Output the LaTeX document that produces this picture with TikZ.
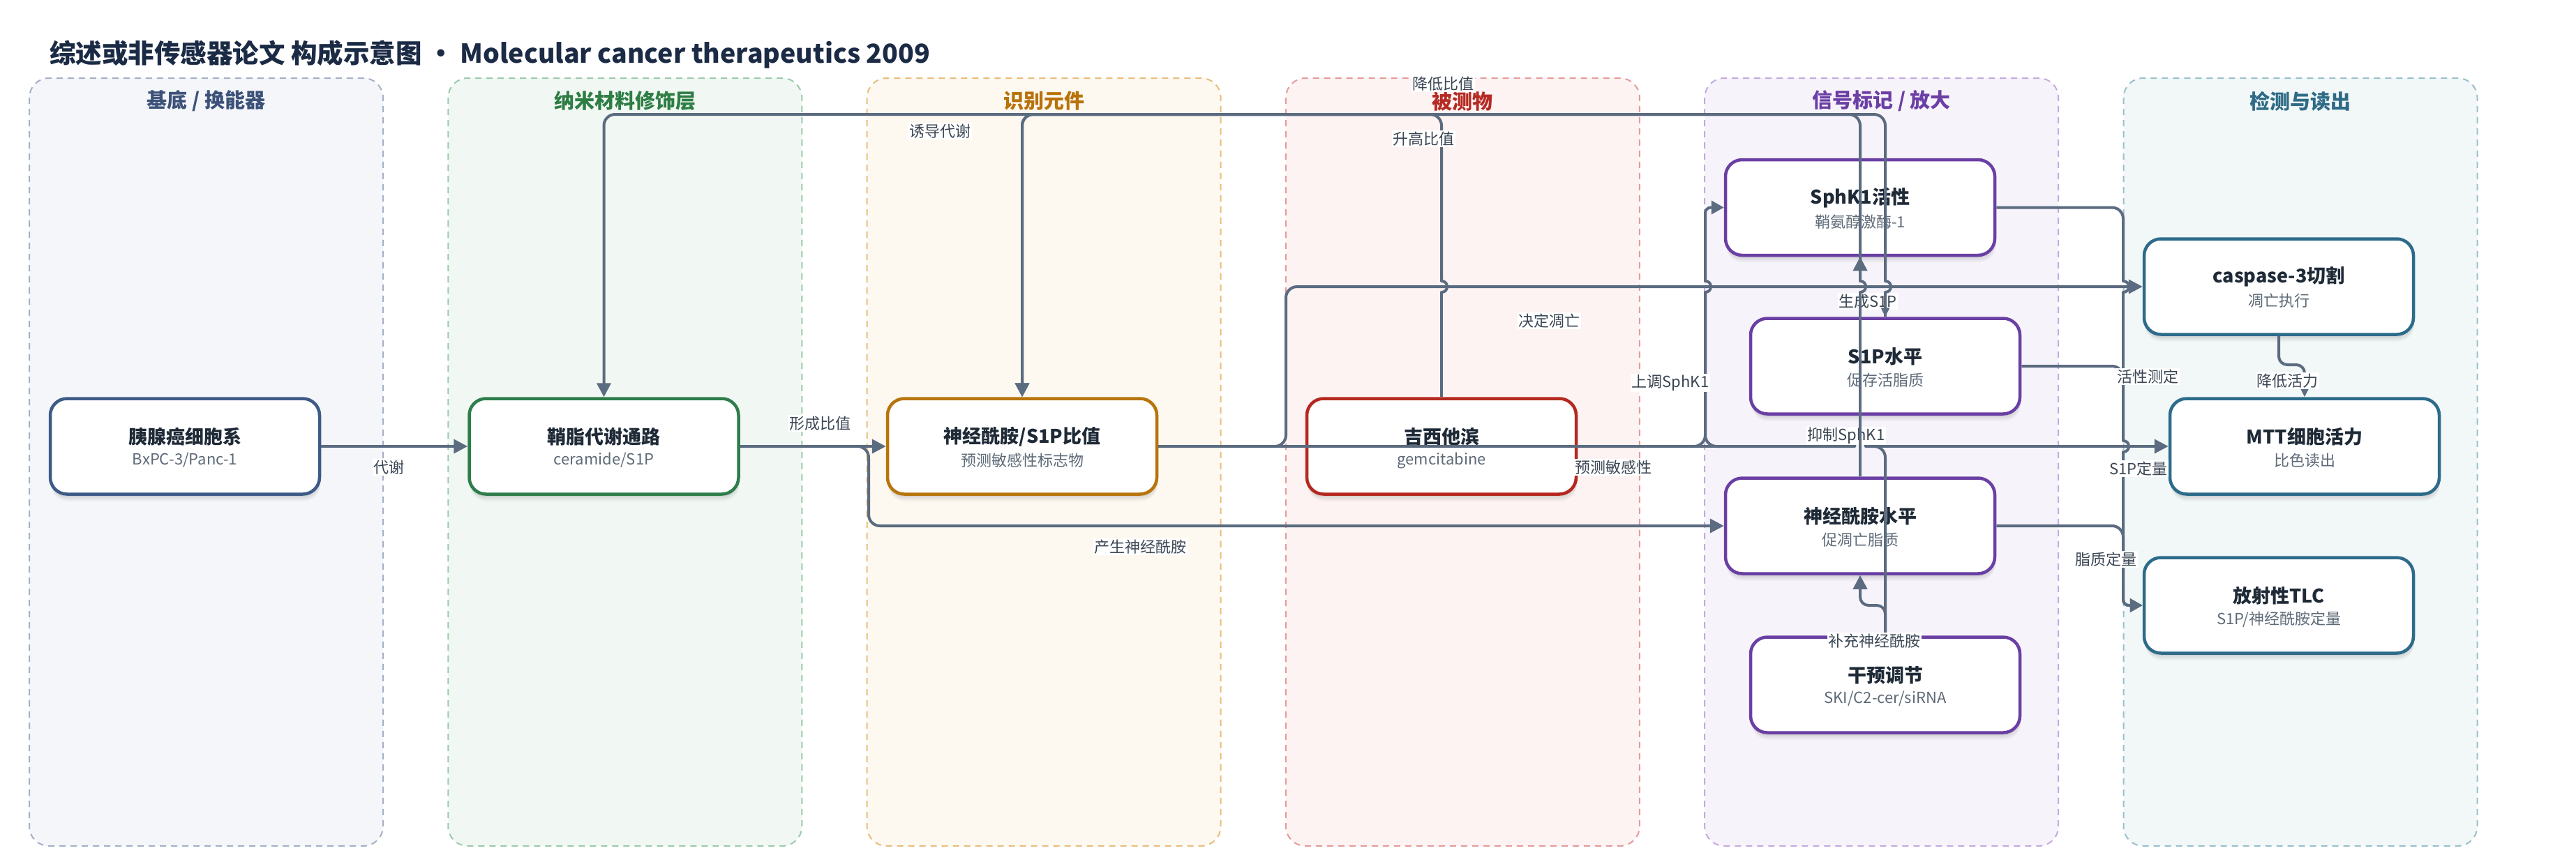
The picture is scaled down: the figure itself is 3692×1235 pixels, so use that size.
\documentclass[tikz,border=0pt]{standalone}
\usepackage{fontspec}
\setmainfont{Noto Sans CJK SC}
\usetikzlibrary{arrows.meta,shadows}
\definecolor{lc}{HTML}{5B6B80}
\definecolor{ttc}{HTML}{1F2A37}
\definecolor{subc}{HTML}{5E6A78}
\definecolor{labc}{HTML}{3B4654}
\definecolor{hdc}{HTML}{1B2B45}
\definecolor{cA}{HTML}{3E5A87}
\definecolor{cB}{HTML}{2E7D4A}
\definecolor{cC}{HTML}{B8740C}
\definecolor{cD}{HTML}{B5281F}
\definecolor{cP}{HTML}{6A3FA3}
\definecolor{cT}{HTML}{2D6B8A}
\definecolor{fA}{HTML}{F4F6FA}\definecolor{bA}{HTML}{A3B1C6}\definecolor{tA}{HTML}{3D5278}
\definecolor{fB}{HTML}{F1F8F3}\definecolor{bB}{HTML}{9BCBAA}\definecolor{tB}{HTML}{2E7D45}
\definecolor{fC}{HTML}{FDF8F0}\definecolor{bC}{HTML}{E8BE7E}\definecolor{tC}{HTML}{B8720A}
\definecolor{fD}{HTML}{FDF3F3}\definecolor{bD}{HTML}{E49C9A}\definecolor{tD}{HTML}{B52A23}
\definecolor{fE}{HTML}{F7F3FB}\definecolor{bE}{HTML}{C4AADF}\definecolor{tE}{HTML}{6B3FA5}
\definecolor{fF}{HTML}{F2F7F8}\definecolor{bF}{HTML}{98C0CC}\definecolor{tF}{HTML}{2F6B86}
\tikzset{
  conn/.style={draw=lc, line width=4pt, rounded corners=16pt},
  arr/.style={-{Triangle[length=20pt,width=20pt]}},
  arrs/.style={-{Triangle[length=18pt,width=19pt]}},
  sarr/.style={-{Triangle[length=13pt,width=12pt]}},
  hopl/.style={draw=lc, line width=4pt, line cap=round},
  nbox/.style={draw=#1, line width=4.5pt, rounded corners=24pt, fill=white,
    minimum width=386pt, minimum height=137pt, inner sep=0pt,
    drop shadow={shadow xshift=1pt,shadow yshift=-10pt,opacity=0.04,fill=black},
    drop shadow={shadow xshift=1pt,shadow yshift=-7pt,opacity=0.05,fill=black},
    drop shadow={shadow xshift=0pt,shadow yshift=-4pt,opacity=0.06,fill=black}},
  ttl/.style={font=\fontsize{27}{30}\selectfont\bfseries, text=ttc, inner sep=0pt},
  subt/.style={font=\fontsize{22}{26}\selectfont, text=subc, inner sep=0pt},
  elab/.style={font=\fontsize{22}{26}\selectfont, text=labc, fill=white, inner sep=1.5pt},
  lanebg/.style 2 args={fill=#1, draw=#2, line width=2pt, dash pattern=on 9pt off 7pt, rounded corners=28pt},
  lanet/.style={font=\fontsize{29}{32}\selectfont\bfseries, text=#1, inner sep=0pt},
}
\newcommand\hopv[2]{\draw[hopl] (#1,#2+8) .. controls (#1+10.7,#2+8) and (#1+10.7,#2-8) .. (#1,#2-8);}
\newcommand\hoph[2]{\draw[hopl] (#1-8,#2) .. controls (#1-8,#2-10.7) and (#1+8,#2-10.7) .. (#1+8,#2);}
\begin{document}
\begin{tikzpicture}[x=1pt,y=-1pt]
\useasboundingbox (0,0) rectangle (3692,1235);
\fill[white] (0,0) rectangle (3692,1235);

% title
\node[anchor=base west, inner sep=0pt, text=hdc, font=\fontsize{37.5}{42}\selectfont\bfseries] (title) at (71,90) {综述或非传感器论文 构成示意图 • Molecular cancer therapeutics 2009};

% lanes
\draw[lanebg={fA}{bA}] (42,112) rectangle (549,1213);
\draw[lanebg={fB}{bB}] (642.3,112) rectangle (1149.3,1213);
\draw[lanebg={fC}{bC}] (1242.6,112) rectangle (1749.6,1213);
\draw[lanebg={fD}{bD}] (1842.9,112) rectangle (2349.9,1213);
\draw[lanebg={fE}{bE}] (2443.2,112) rectangle (2950.2,1213);
\draw[lanebg={fF}{bF}] (3043.5,112) rectangle (3550.5,1213);
\node[lanet=tA] (T1) at (295.5,145) {基底 / 换能器};
\node[lanet=tB] (T2) at (895.8,145) {纳米材料修饰层};
\node[lanet=tC] (T3) at (1496.1,145) {识别元件};
\node[lanet=tD] (T4) at (2096.4,145) {被测物};
\node[lanet=tE] (T5) at (2696.7,145) {信号标记 / 放大};
\node[lanet=tF] (T6) at (3297,145) {检测与读出};

% nodes
\node[nbox=cA] (A) at (265,640) {};
\node[nbox=cB] (B) at (865.5,640) {};
\node[nbox=cC] (C) at (1465,640) {};
\node[nbox=cD] (D) at (2066,640) {};
\node[nbox=cP] (E) at (2666,297.5) {};
\node[nbox=cP] (F) at (2702,525) {};
\node[nbox=cP] (G) at (2666,754) {};
\node[nbox=cP] (H) at (2702,982) {};
\node[nbox=cT] (I) at (3266,411) {};
\node[nbox=cT] (J) at (3303,640) {};
\node[nbox=cT] (K) at (3266,868) {};

\node[ttl] (At) at (265,626) {胰腺癌细胞系};
\node[subt] (As) at (265,660) {BxPC-3/Panc-1};
\node[ttl] (Bt) at (865.5,626) {鞘脂代谢通路};
\node[subt] (Bs) at (865.5,660) {ceramide/S1P};
\node[ttl] (Ct) at (1465,626) {神经酰胺/S1P比值};
\node[subt] (Cs) at (1465,660) {预测敏感性标志物};
\node[ttl] (Dt) at (2066,626) {吉西他滨};
\node[subt] (Ds) at (2066,660) {gemcitabine};
\node[ttl] (Et) at (2666,284) {SphK1活性};
\node[subt] (Es) at (2666,318) {鞘氨醇激酶-1};
\node[ttl] (Ft) at (2702,511) {S1P水平};
\node[subt] (Fs) at (2702,545) {促存活脂质};
\node[ttl] (Gt) at (2666,740) {神经酰胺水平};
\node[subt] (Gs) at (2666,774) {促凋亡脂质};
\node[ttl] (Ht) at (2702,968) {干预调节};
\node[subt] (Hs) at (2702,1002) {SKI/C2-cer/siRNA};
\node[ttl] (It) at (3266,397) {caspase-3切割};
\node[subt] (Is) at (3266,431) {凋亡执行};
\node[ttl] (Jt) at (3303,626) {MTT细胞活力};
\node[subt] (Js) at (3303,660) {比色读出};
\node[ttl] (Kt) at (3266,854) {放射性TLC};
\node[subt] (Ks) at (3266,888) {S1P/神经酰胺定量};

% edges
\draw[conn,arr] (A.east) -- (B.west);
\draw[conn,arr] (B.east) -- (C.west);
\draw[conn,arr] (B.east) -- (1245,640) -- (1245,754) -- (G.west);
\draw[conn,arr] (C.east) -- (1843,640) -- (1843,411) -- (I.west);
% C -> J
\draw[conn] (C.east) -- (2658,640);
\draw[conn,arr] (2674,640) -- (J.west);
\hoph{2666}{640}
% D -> B
\draw[conn] (D.north) -- (2066,419);
\hopv{2066}{411}
\draw[conn,arr] (2066,403) -- (2066,164) -- (865.5,164) -- (B.north);
% D -> E
\draw[conn] (D.east) -- (2444,640) -- (2444,419);
\hopv{2444}{411}
\draw[conn,arrs,rounded corners=8pt] (2444,403) -- (2444,297.5) -- (E.west);
% H -> E
\draw[conn] (H.north) -- (2702,640) -- (2674,640);
\draw[conn] (2658,640) -- (2444,640) -- (2444,419);
% H -> G
\draw[conn,arr,rounded corners=12pt] (H.north) -- (2702,868) -- (2666,868) -- (G.south);

\node[elab] (l10) at (2646,625) {抑制SphK1};
\node[elab] (l11) at (2677,432) {生成S1P};

% E -> F
\draw[conn] (E.south -| F.north) -- (2702,403);
\hopv{2702}{411}
\draw[conn,sarr] (2702,419) -- (F.north);
% F -> C
\draw[conn] (F.north) -- (2702,419);
\draw[conn,arr] (2702,403) -- (2702,164) -- (1465,164) -- (C.north);
% G -> C
\draw[conn] (G.north) -- (2666,419);
\hopv{2666}{411}
\draw[conn,arr] (2666,403) -- (2666,164) -- (1465,164) -- (C.north);
% G -> E
\draw[conn,arr] (2666,403) -- (E.south);
% I -> J
\draw[conn,sarr,rounded corners=12pt] (I.south) -- (3266,523) -- (3303,523) -- (J.north);
% E -> K
\draw[conn] (E.east) -- (3043,297.5) -- (3043,403);
\hopv{3043}{411}
\draw[conn] (3043,419) -- (3043,632);
\hopv{3043}{640}
\draw[conn,arrs,rounded corners=8pt] (3043,648) -- (3043,868) -- (K.west);
% F -> K
\draw[conn] (F.east) -- (3043,525) -- (3043,632);
% G -> K
\draw[conn] (G.east) -- (3043,754) -- (3043,840);
\draw[conn,arrs,rounded corners=8pt] (3043,840) -- (3043,868) -- (K.west);

% labels
\node[elab] (l1) at (557,670) {代谢};
\node[elab] (l2) at (1175,607) {形成比值};
\node[elab] (l3) at (1634,784) {产生神经酰胺};
\node[elab] (l4) at (1347,188) {诱导代谢};
\node[elab] (l5) at (2040,199) {升高比值};
\node[elab] (l6) at (2068,120) {降低比值};
\node[elab] (l7) at (2220,460) {决定凋亡};
\node[elab] (l8) at (2312,670) {预测敏感性};
\node[elab] (l9) at (2394,549) {上调SphK1};
\node[elab] (l12) at (2686,919) {补充神经酰胺};
\node[elab] (l13) at (3078,540) {活性测定};
\node[elab] (l14) at (3065,672) {S1P定量};
\node[elab] (l15) at (3018,802) {脂质定量};
\node[elab] (l16) at (3278,546) {降低活力};
\end{tikzpicture}
\end{document}
